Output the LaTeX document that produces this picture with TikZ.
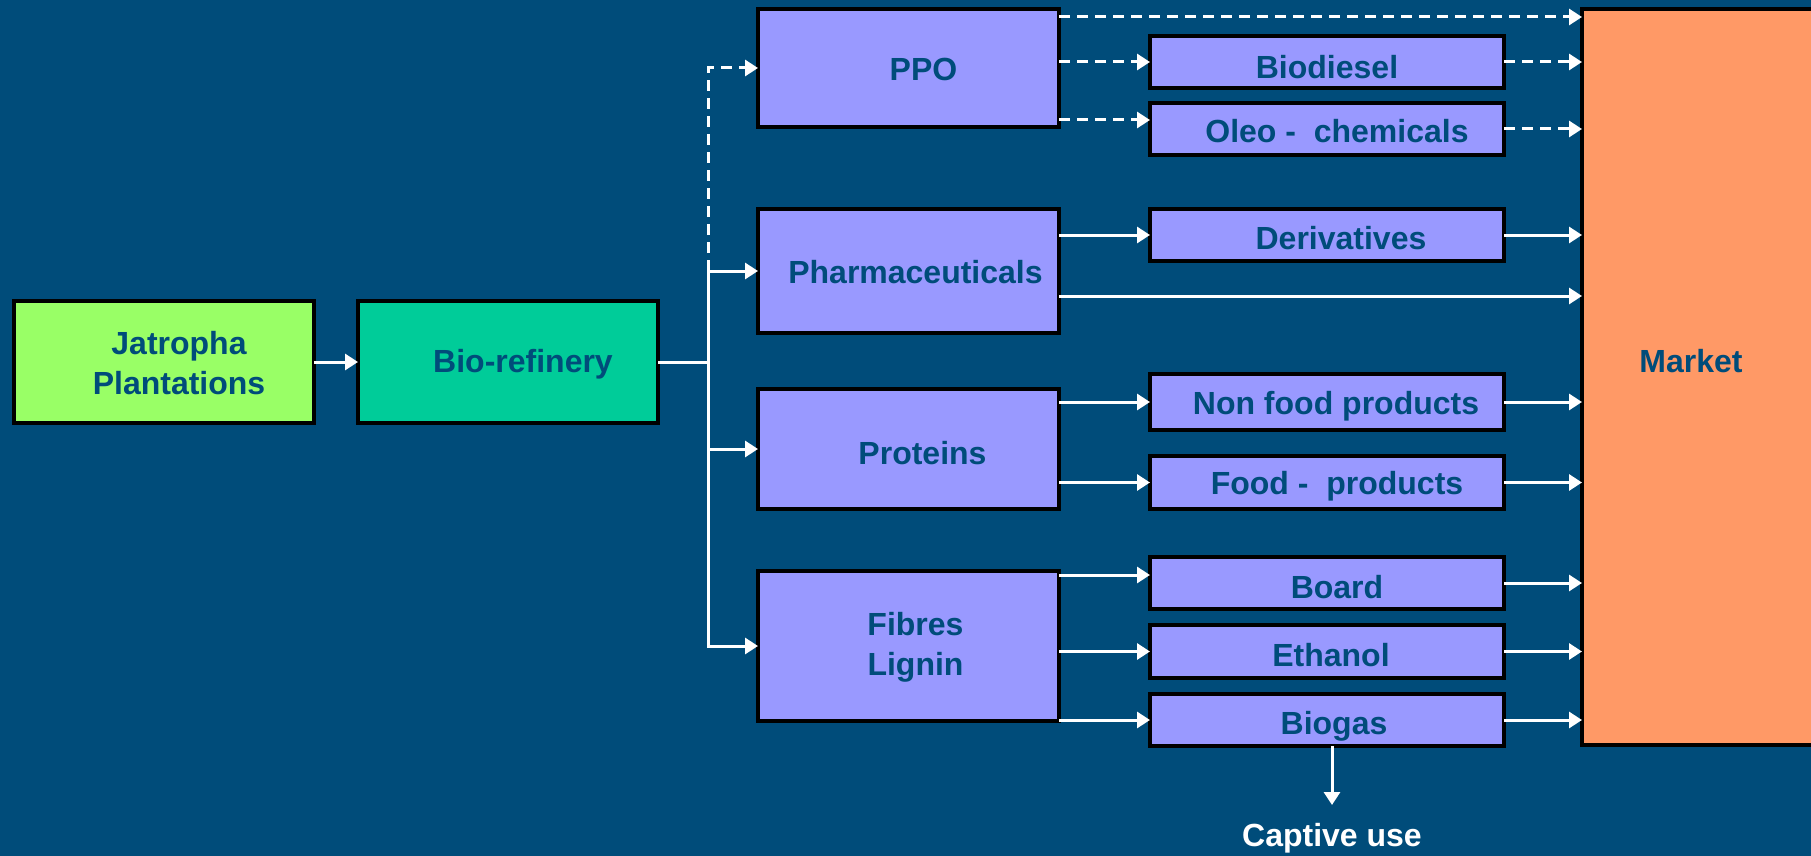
\documentclass[tikz,border=0pt]{standalone}
\usepackage{fontspec}
\setmainfont{Liberation Sans}
\usetikzlibrary{arrows.meta,calc,shadows}
\definecolor{bgc}{RGB}{0,76,122}
\definecolor{txc}{RGB}{0,76,122}
\definecolor{cprod}{RGB}{153,153,255}
\definecolor{cjat}{RGB}{153,255,102}
\definecolor{cbio}{RGB}{0,204,153}
\definecolor{cmkt}{RGB}{255,153,102}
\begin{document}
\begin{tikzpicture}[x=0.5pt,y=-0.5pt,
  box/.style={draw=black, line width=1.6pt, inner sep=0pt, outer sep=0pt,
    drop shadow={shadow xshift=1.2pt, shadow yshift=-1.2pt, fill=#1, opacity=1}, fill=#1},
  txt/.style={font=\bfseries\fontsize{16}{20}\selectfont, text=txc, align=center, inner sep=0pt},
  arr/.style={draw=white, line width=1.5pt, -{Triangle[length=6.5pt,width=8pt]}},
  ln/.style={draw=white, line width=1.5pt},
  dsh/.style={dash pattern=on 5.5pt off 3.5pt}]
\fill[bgc] (0,0) rectangle (1811,856);
\useasboundingbox (0,0) rectangle (1811,856);

% left column
\node[box=cjat, minimum width=150pt, minimum height=61pt,
  label={[txt, name=jatT, xshift=7.5pt, yshift=-0.5pt]center:{Jatropha\\Plantations}}] (jat) at (164,362) {};
\node[box=cbio, minimum width=150pt, minimum height=61pt,
  label={[txt, name=bioT, xshift=7.5pt, yshift=-1pt]center:{Bio-refinery}}] (bio) at (508,362) {};

% middle column
\node[box=cprod, minimum width=150.5pt, minimum height=59pt,
  label={[txt, name=ppoT, xshift=7.5pt, yshift=-0.5pt]center:{PPO}}] (ppo) at (908.5,68) {};
\node[box=cprod, minimum width=150.5pt, minimum height=62pt,
  label={[txt, name=phT, xshift=3.5pt, yshift=-0.5pt]center:{Pharmaceuticals}}] (ph) at (908.5,271) {};
\node[box=cprod, minimum width=150.5pt, minimum height=60pt,
  label={[txt, name=protT, xshift=7pt, yshift=-2pt]center:{Proteins}}] (prot) at (908.5,449) {};
\node[box=cprod, minimum width=150.5pt, minimum height=75pt,
  label={[txt, name=fibT, xshift=3.5pt, yshift=-0.5pt]center:{Fibres\\Lignin}}] (fib) at (908.5,646) {};

% right column
\node[box=cprod, minimum width=177pt, minimum height=26pt,
  label={[txt, name=bdT, yshift=-2.5pt]center:{Biodiesel}}] (bd) at (1327,62) {};
\node[box=cprod, minimum width=177pt, minimum height=26pt,
  label={[txt, name=oleoT, xshift=5pt, yshift=-1pt]center:{Oleo - \ chemicals}}] (oleo) at (1327,129) {};
\node[box=cprod, minimum width=177pt, minimum height=26pt,
  label={[txt, name=derT, xshift=7pt, yshift=-1.5pt]center:{Derivatives}}] (der) at (1327,235) {};
\node[box=cprod, minimum width=177pt, minimum height=28pt,
  label={[txt, name=nfT, xshift=4.5pt, yshift=-2pt]center:{Non food products}}] (nf) at (1327,402) {};
\node[box=cprod, minimum width=177pt, minimum height=26.5pt,
  label={[txt, name=foodT, xshift=5pt, yshift=-2pt]center:{Food - \ products}}] (food) at (1327,482.5) {};
\node[box=cprod, minimum width=177pt, minimum height=26pt,
  label={[txt, name=boardT, xshift=5pt, yshift=-2pt]center:{Board}}] (board) at (1327,583) {};
\node[box=cprod, minimum width=177pt, minimum height=26.5pt,
  label={[txt, name=ethT, xshift=2pt, yshift=-2pt]center:{Ethanol}}] (eth) at (1327,651.5) {};
\node[box=cprod, minimum width=177pt, minimum height=26pt,
  label={[txt, name=bgT, xshift=3.5pt, yshift=-3pt]center:{Biogas}}] (biogas) at (1327,720) {};

% market
\node[box=cmkt, minimum width=117pt, minimum height=368pt,
  label={[txt, name=mktT, xshift=-4pt, yshift=8pt]center:{Market}}] (mkt) at (1699,377) {};

% captive use
\node[txt, text=white] (cap) at (1332,838) {Captive use};
\coordinate (ce) at (1332,805);

% connectors
\draw[arr] (jat.east) -- (bio.west);
\coordinate (tr) at (708,362);
\draw[ln] (bio.east) -- (tr);
\draw[arr] (tr) |- (ph.west);
\draw[arr] (tr) |- (fib.west);
\draw[arr] (tr |- prot.west) -- (prot.west);
\draw[arr, dsh] (tr |- ph.west) |- (ppo.west);

\draw[arr, dsh] ($(ppo.north east)+(0,8)$) coordinate (p0) -- (p0 -| mkt.west);
\draw[arr, dsh] (ppo.east |- bd.west) -- (bd.west);
\draw[arr, dsh] ($(ppo.east)+(0,52)$) coordinate (p2) -- (p2 -| oleo.west);
\draw[arr, dsh] (bd.east) -- (bd.east -| mkt.west);
\draw[arr, dsh] (oleo.east) -- (oleo.east -| mkt.west);

\draw[arr] (ph.east |- der.west) -- (der.west);
\draw[arr] ($(ph.east)+(0,25)$) coordinate (p3) -- (p3 -| mkt.west);
\draw[arr] (der.east) -- (der.east -| mkt.west);

\draw[arr] (prot.east |- nf.west) -- (nf.west);
\draw[arr] (prot.east |- food.west) -- (food.west);
\draw[arr] (nf.east) -- (nf.east -| mkt.west);
\draw[arr] (food.east) -- (food.east -| mkt.west);

\draw[arr] ($(fib.east)+(0,-71)$) coordinate (f1) -- (f1 -| board.west);
\draw[arr] (fib.east |- eth.west) -- (eth.west);
\draw[arr] (fib.east |- biogas.west) -- (biogas.west);
\draw[arr] (board.east) -- (board.east -| mkt.west);
\draw[arr] (eth.east) -- (eth.east -| mkt.west);
\draw[arr] (biogas.east) -- (biogas.east -| mkt.west);

\draw[arr] (biogas.south -| ce) -- (ce);
\end{tikzpicture}
\end{document}
